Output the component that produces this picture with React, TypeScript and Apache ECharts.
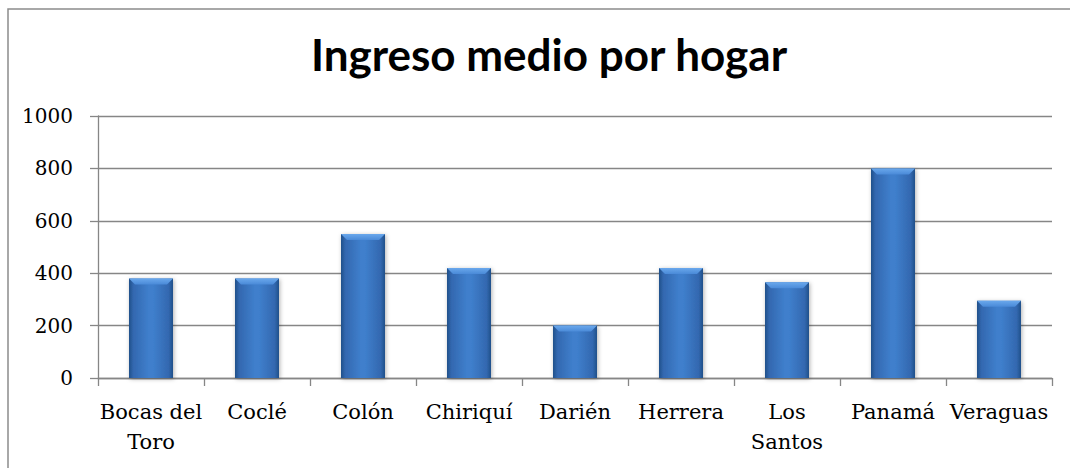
import React, { useEffect, useRef } from "react";
import * as echarts from "echarts";

const categories = ["Bocas del\nToro", "Coclé", "Colón", "Chiriquí", "Darién", "Herrera", "Los\nSantos", "Panamá", "Veraguas"];
const values = [380, 380, 550, 420, 200, 420, 365, 800, 295];
const yTicks = { min: 0, max: 1000, interval: 200 };
const titleText = "Ingreso medio por hogar";

export default function App() {
  const ref = useRef<HTMLDivElement>(null);
  useEffect(() => {
    document.body.style.margin = "0";
    const chart = echarts.init(ref.current!, null, { renderer: "svg" });
    const barW = 44;
    const bevel = 6;
    chart.setOption({
      animation: false,
      backgroundColor: "#ffffff",
      title: {
        text: titleText,
        left: 544,
        top: 27,
        textAlign: "center",
        textStyle: { fontFamily: "Lato", fontWeight: "bold", fontSize: 44, color: "#000000" },
      },
      graphic: [
        {
          type: "rect",
          shape: { x: 8, y: 9, width: 1120, height: 520 },
          style: { fill: "none", stroke: "#8c8c8c", lineWidth: 1.5 },
          silent: true,
          z: 100,
        },
      ],
      grid: { left: 98, right: 18, top: 116, bottom: 90, containLabel: false },
      xAxis: {
        type: "category",
        data: categories,
        axisLine: { show: true, lineStyle: { color: "#868686", width: 1.3 } },
        axisTick: { show: true, length: 8, lineStyle: { color: "#868686", width: 1.3 } },
        axisLabel: {
          fontFamily: "DejaVu Serif",
          fontSize: 21,
          color: "#000000",
          margin: 19,
          lineHeight: 30,
          interval: 0,
        },
      },
      yAxis: {
        type: "value",
        min: yTicks.min,
        max: yTicks.max,
        interval: yTicks.interval,
        axisLine: { show: true, lineStyle: { color: "#868686", width: 1.3 } },
        axisTick: { show: true, length: 8, lineStyle: { color: "#868686", width: 1.3 } },
        splitLine: { show: true, lineStyle: { color: "#868686", width: 1.3 } },
        axisLabel: {
          fontFamily: "DejaVu Serif",
          fontSize: 20,
          color: "#000000",
          margin: 25,
          formatter: (v: number) => String(v),
        },
      },
      series: [
        {
          type: "bar",
          data: values,
          barWidth: barW,
          itemStyle: {
            color: new echarts.graphic.LinearGradient(0, 0, 1, 0, [
              { offset: 0, color: "#22508a" },
              { offset: 0.1, color: "#3368b0" },
              { offset: 0.45, color: "#3f7fcc" },
              { offset: 0.55, color: "#3f7fcc" },
              { offset: 0.9, color: "#3368b0" },
              { offset: 1, color: "#22508a" },
            ]),
            shadowBlur: 4,
            shadowColor: "rgba(0,0,0,0.3)",
            shadowOffsetX: 1,
            shadowOffsetY: 1,
          },
          z: 2,
        },
        {
          type: "custom",
          data: values.map((v, i) => [i, v]),
          z: 3,
          renderItem: (params: any, api: any) => {
            const p = api.coord([api.value(0), api.value(1)]);
            const x0 = p[0] - barW / 2;
            const x1 = p[0] + barW / 2;
            const y = p[1];
            return {
              type: "polygon",
              shape: {
                points: [
                  [x0, y],
                  [x1, y],
                  [x1 - bevel, y + bevel],
                  [x0 + bevel, y + bevel],
                ],
              },
              style: {
                fill: new echarts.graphic.LinearGradient(0, 0, 0, 1, [
                  { offset: 0, color: "#6aa8ec" },
                  { offset: 1, color: "#4a8ad8" },
                ]),
              },
            };
          },
        },
      ],
    });
    return () => chart.dispose();
  }, []);
  return <div ref={ref} style={{ width: 1070, height: 468 }} />;
}
